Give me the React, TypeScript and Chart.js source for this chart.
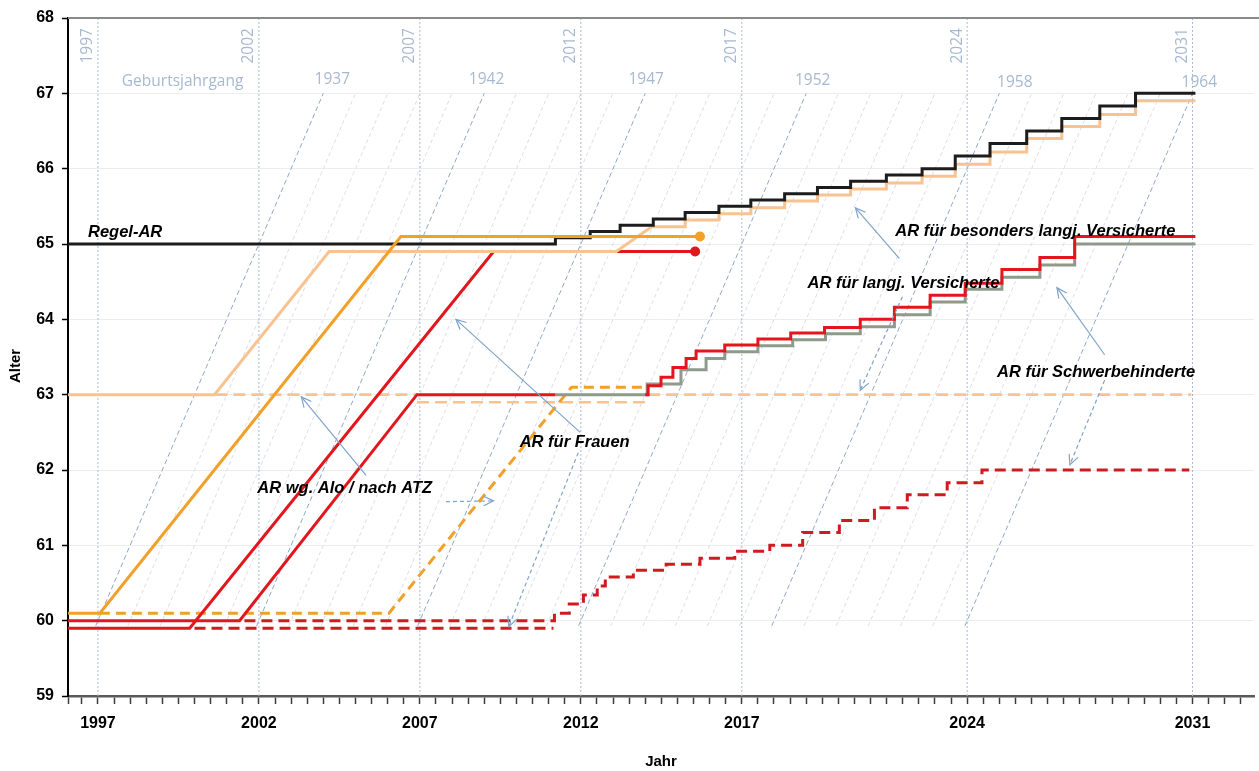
import React, { useEffect, useRef } from 'react';
import { Chart, registerables } from 'chart.js';

Chart.register(...registerables);

// ---------- axes ----------
const X_MIN = 1996.07;
const X_MAX = 2032.91;
const Y_MIN = 59;
const Y_MAX = 68;
const yearTickLabels = [1997, 2002, 2007, 2012, 2017, 2024, 2031];
const yearLines = [1997, 2002, 2007, 2012, 2017, 2024, 2031];

// ---------- birth cohorts (Geburtsjahrgang) ----------
const cohorts = [1937, 1938, 1939, 1940, 1941, 1942, 1943, 1944, 1945, 1946, 1947, 1948, 1949, 1950,
  1951, 1952, 1953, 1954, 1955, 1956, 1957, 1958, 1959, 1960, 1961, 1962, 1963, 1964];
const labeledCohorts = [1937, 1942, 1947, 1952, 1958, 1964];
const cohortAgeFrom = 59.93;
const cohortAgeTo = 67;
const cohortLabelX = [2004.28, 2009.07, 2014.03, 2019.2, 2025.48, 2031.21];
const cohortLabelAge = [67.18, 67.18, 67.18, 67.17, 67.14, 67.14];

// ---------- Regel-AR (black) ----------
const regelStartX = [1996.07];
const regelStartY = [65];
const regelStepX = [2011.21, 2012.29, 2013.22, 2014.25, 2015.24, 2016.29, 2017.28, 2018.33, 2019.35, 2020.38,
  2021.49, 2022.6, 2023.63, 2024.71, 2025.85, 2026.94, 2028.12, 2029.23];
const regelStepY = [65.083, 65.167, 65.25, 65.333, 65.417, 65.5, 65.583, 65.667, 65.75, 65.833,
  65.917, 66.0, 66.167, 66.333, 66.5, 66.667, 66.833, 67.0];
const regelEndX = 2031.09;

// ---------- AR für langj. Versicherte (peach) ----------
const langjStartX = [1996.07, 2000.62, 2004.18, 2013.1, 2014.2];
const langjStartY = [63, 63, 64.9, 64.9, 65.23];
const langjStepX = [2015.24, 2016.29, 2017.28, 2018.33, 2019.35, 2020.38, 2021.49, 2022.6, 2023.63,
  2024.71, 2025.85, 2026.94, 2028.12, 2029.23];
const langjStepY = [65.32, 65.4, 65.48, 65.57, 65.65, 65.73, 65.81, 65.9, 66.06, 66.22, 66.4, 66.56, 66.72, 66.9];
const langjEndX = 2031.09;
const langjDashFrom = [2000.65, 2006.91, 2014.09];
const langjDashTo = [2006.91, 2014.09, 2030.96];
const langjDashAge = [63, 62.9, 63];

// ---------- AR für Frauen (orange) ----------
const frauenX = [1996.07, 1997.06, 2006.41, 2015.7];
const frauenY = [60.1, 60.1, 65.1, 65.1];
const frauenDashX = [1997.06, 2006.04, 2011.71, 2014.09];
const frauenDashY = [60.1, 60.1, 63.1, 63.1];

// ---------- AR wg. Alo / nach ATZ (red) ----------
const aloAX = [1996.07, 2001.4, 2006.91, 2011.21];
const aloAY = [60.0, 60.0, 63.0, 63.0];
const aloBX = [1996.07, 1999.85, 2009.29, 2015.55];
const aloBY = [59.9, 59.9, 64.9, 64.9];
const aloDashX = [2000.0, 2011.15];
const aloDashY = [59.9, 59.9];

// ---------- AR für Schwerbehinderte (gray solid, red dashed) ----------
const schwerStartX = [2011.21];
const schwerStartY = [63.0];
const schwerStepX = [2014.06, 2015.11, 2015.89, 2016.47, 2017.5, 2018.58, 2019.6, 2020.68, 2021.74, 2022.85,
  2023.94, 2025.08, 2026.26, 2027.34];
const schwerStepY = [63.14, 63.33, 63.48, 63.57, 63.65, 63.73, 63.81, 63.9, 64.06, 64.23, 64.4, 64.56, 64.72, 65.0];
const schwerEndX = 2031.09;
const schwerDashStartX = [2001.55];
const schwerDashStartY = [60.0];
const schwerDashStepX = [2011.18, 2011.64, 2012.08, 2012.51, 2012.76, 2013.63, 2014.65, 2015.7, 2016.78, 2017.87,
  2018.89, 2020.03, 2021.12, 2022.14, 2023.38, 2024.46];
const schwerDashStepY = [60.1, 60.22, 60.34, 60.46, 60.58, 60.67, 60.75, 60.83, 60.92, 61.0,
  61.17, 61.33, 61.5, 61.67, 61.83, 62.0];
const schwerDashEndX = 2030.9;

// ---------- AR für besonders langj. Versicherte (red stairs) ----------
const besStartX = [2014.0];
const besStartY = [63.0];
const besStepX = [2014.09, 2014.49, 2014.86, 2015.27, 2015.58, 2016.47, 2017.5, 2018.52, 2019.57, 2020.68,
  2021.74, 2022.85, 2023.94, 2025.08, 2026.26, 2027.34];
const besStepY = [63.12, 63.23, 63.36, 63.48, 63.58, 63.66, 63.74, 63.82, 63.89, 64.0,
  64.16, 64.32, 64.48, 64.66, 64.82, 65.1];
const besEndX = 2031.09;

// ---------- annotations ----------
const noteText = ['Regel-AR', 'AR für besonders langj. Versicherte', 'AR für langj. Versicherte',
  'AR für Schwerbehinderte', 'AR für Frauen', 'AR wg. Alo / nach ATZ'];
const noteX = [1996.69, 2021.77, 2019.04, 2024.93, 2010.1, 2001.95];
const noteAge = [65.15, 65.16, 64.48, 63.3, 62.36, 61.76];

const arrowFromX = [2011.98, 2011.92, 2005.33, 2007.81, 2021.89, 2021.99, 2028.27, 2028.27];
const arrowFromAge = [62.5, 62.23, 61.93, 61.58, 64.81, 64.3, 63.53, 63.19];
const arrowToX = [2008.12, 2009.76, 2003.32, 2009.29, 2020.53, 2020.68, 2026.79, 2027.19];
const arrowToAge = [64.0, 59.92, 62.97, 61.59, 65.48, 63.06, 64.42, 62.07];
const arrowDashed = [false, true, false, true, false, true, false, true];

// ---------- colours ----------
const C_BLACK = '#1c1c1c';
const C_PEACH = '#F8C391';
const C_ORANGE = '#F2A02A';
const C_RED = '#E3161D';
const C_RED_DASH = '#CF1A20';
const C_GRAY = '#8E9A8C';
const C_BLUE_TEXT = '#A6B9D1';
const C_ARROW = '#7FA3C9';

type P = { x: number; y: number | null };

function poly(xs: number[], ys: number[]): P[] {
  return xs.map((x, i) => ({ x, y: ys[i] }));
}

function stairs(sx: number[], sy: number[], stepX: number[], stepY: number[], endX: number): P[] {
  const pts = poly(sx, sy);
  let prev = sy[sy.length - 1];
  stepX.forEach((x, i) => {
    pts.push({ x, y: prev });
    pts.push({ x, y: stepY[i] });
    prev = stepY[i];
  });
  pts.push({ x: endX, y: prev });
  return pts;
}

function segments(from: number[], to: number[], level: number[]): P[] {
  const pts: P[] = [];
  from.forEach((f, i) => {
    if (i > 0) pts.push({ x: f, y: null });
    pts.push({ x: f, y: level[i] });
    pts.push({ x: to[i], y: level[i] });
  });
  return pts;
}

function line(data: P[], color: string, order: number, extra: any = {}) {
  return {
    data,
    borderColor: color,
    backgroundColor: color,
    borderWidth: 3,
    pointRadius: 0,
    pointHoverRadius: 0,
    tension: 0,
    fill: false,
    borderJoinStyle: 'miter',
    borderCapStyle: 'butt',
    spanGaps: false,
    order,
    ...extra,
  };
}

function endDot(color: string, n: number) {
  return {
    pointRadius: (ctx: any) => (ctx.dataIndex === n - 1 ? 5 : 0),
    pointBackgroundColor: color,
    pointBorderColor: color,
    pointBorderWidth: 0,
  };
}

function buildDatasets() {
  const ds: any[] = [];
  cohorts.forEach((c) => {
    const lab = labeledCohorts.includes(c);
    ds.push(line([
      { x: c + cohortAgeFrom, y: cohortAgeFrom },
      { x: c + cohortAgeTo, y: cohortAgeTo },
    ], lab ? '#90A8C9' : '#D9DFE7', 50, { borderWidth: 1, borderDash: lab ? [5, 3] : [4, 3] }));
  });
  yearLines.forEach((yr) => {
    ds.push(line([{ x: yr, y: Y_MIN }, { x: yr, y: Y_MAX }], '#A9BCD6', 49, { borderWidth: 1, borderDash: [2, 2] }));
  });
  ds.push(line(segments(langjDashFrom, langjDashTo, langjDashAge), C_PEACH, 20, { borderWidth: 2.6, borderDash: [12, 6] }));
  ds.push(line(poly(frauenDashX, frauenDashY), C_ORANGE, 19, { borderWidth: 3, borderDash: [10, 6] }));
  ds.push(line(poly(aloDashX, aloDashY), C_RED_DASH, 18, { borderWidth: 3, borderDash: [11, 6] }));
  ds.push(line(stairs(schwerDashStartX, schwerDashStartY, schwerDashStepX, schwerDashStepY, schwerDashEndX), C_RED_DASH, 17, { borderWidth: 3, borderDash: [11, 6] }));
  const aloB = poly(aloBX, aloBY);
  ds.push(line(aloB, C_RED, 16, endDot(C_RED, aloB.length)));
  ds.push(line(stairs(langjStartX, langjStartY, langjStepX, langjStepY, langjEndX), C_PEACH, 15));
  ds.push(line(stairs(schwerStartX, schwerStartY, schwerStepX, schwerStepY, schwerEndX), C_GRAY, 14));
  ds.push(line(stairs(besStartX, besStartY, besStepX, besStepY, besEndX), C_RED, 13));
  ds.push(line(poly(aloAX, aloAY), C_RED, 13));
  ds.push(line(stairs(regelStartX, regelStartY, regelStepX, regelStepY, regelEndX), C_BLACK, 12));
  const fr = poly(frauenX, frauenY);
  ds.push(line(fr, C_ORANGE, 11, endDot(C_ORANGE, fr.length)));
  return ds;
}

function drawArrow(ctx: CanvasRenderingContext2D, x1: number, y1: number, x2: number, y2: number, dashed: boolean) {
  ctx.save();
  ctx.strokeStyle = C_ARROW;
  ctx.lineWidth = 1.2;
  ctx.setLineDash(dashed ? [4, 3] : []);
  ctx.beginPath();
  ctx.moveTo(x1, y1);
  ctx.lineTo(x2, y2);
  ctx.stroke();
  ctx.setLineDash([]);
  const a = Math.atan2(y2 - y1, x2 - x1);
  const L = 11;
  const w = 0.45;
  ctx.beginPath();
  ctx.moveTo(x2 - L * Math.cos(a - w), y2 - L * Math.sin(a - w));
  ctx.lineTo(x2, y2);
  ctx.lineTo(x2 - L * Math.cos(a + w), y2 - L * Math.sin(a + w));
  ctx.stroke();
  ctx.restore();
}

const decor = {
  id: 'decor',
  afterDatasetsDraw(chart: any) {
    const { ctx, scales } = chart;
    const X = (v: number) => scales.x.getPixelForValue(v);
    const Y = (v: number) => scales.y.getPixelForValue(v);
    ctx.save();
    ctx.fillStyle = C_BLUE_TEXT;
    ctx.font = '15.5px "Open Sans", sans-serif';
    ctx.textAlign = 'center';
    ctx.textBaseline = 'middle';
    yearLines.forEach((yr) => {
      ctx.save();
      ctx.translate(X(yr) - 10, Y(67.63));
      ctx.rotate(-Math.PI / 2);
      ctx.fillText(String(yr), 0, 0);
      ctx.restore();
    });
    labeledCohorts.forEach((c, i) => {
      ctx.fillText(String(c), X(cohortLabelX[i]), Y(cohortLabelAge[i]));
    });
    ctx.fillText('Geburtsjahrgang', X(1999.63), Y(67.15));

    ctx.fillStyle = '#000';
    ctx.font = 'italic bold 16.5px "Liberation Sans", Arial, sans-serif';
    ctx.textAlign = 'left';
    noteText.forEach((t, i) => ctx.fillText(t, X(noteX[i]), Y(noteAge[i])));

    arrowFromX.forEach((fx, i) => {
      drawArrow(ctx, X(fx), Y(arrowFromAge[i]), X(arrowToX[i]), Y(arrowToAge[i]), arrowDashed[i]);
    });
    ctx.restore();
  },
  afterDraw(chart: any) {
    const { ctx, chartArea } = chart;
    ctx.save();
    ctx.strokeStyle = '#8A8A8A';
    ctx.lineWidth = 2;
    ctx.beginPath();
    ctx.moveTo(chartArea.left, chartArea.top);
    ctx.lineTo(chart.width, chartArea.top);
    ctx.stroke();

    ctx.fillStyle = '#000';
    ctx.font = 'bold 15px "Liberation Sans", Arial, sans-serif';
    ctx.textAlign = 'center';
    ctx.textBaseline = 'middle';
    ctx.fillText('Jahr', (chartArea.left + chartArea.right) / 2, 762);
    ctx.save();
    ctx.translate(16, 366);
    ctx.rotate(-Math.PI / 2);
    ctx.fillText('Alter', 0, 0);
    ctx.restore();
    ctx.restore();
  },
};

export default function App() {
  const ref = useRef<HTMLCanvasElement>(null);
  useEffect(() => {
    if (!ref.current) return;
    const tickVals: number[] = [X_MIN];
    for (let v = 1996.5; v <= 2032.5; v += 0.5) tickVals.push(v);
    const chart = new Chart(ref.current, {
      type: 'line',
      data: { datasets: buildDatasets() },
      plugins: [decor],
      options: {
        responsive: false,
        animation: false,
        events: [],
        layout: { padding: { top: 18, right: 1, left: 0, bottom: 0 } },
        plugins: { legend: { display: false }, tooltip: { enabled: false }, title: { display: false } },
        scales: {
          x: {
            type: 'linear',
            min: X_MIN,
            max: X_MAX,
            afterBuildTicks: (s: any) => { s.ticks = tickVals.map((v) => ({ value: v })); },
            afterFit: (s: any) => { s.height = 75; },
            ticks: {
              autoSkip: false,
              maxRotation: 0,
              minRotation: 0,
              padding: 10,
              color: '#000',
              font: { family: '"Liberation Sans", Arial, sans-serif', size: 16, weight: 'bold' },
              callback: (v: any) => (yearTickLabels.includes(v) ? String(v) : ''),
            },
            grid: { drawOnChartArea: false, drawTicks: true, tickLength: 8, tickColor: '#3c3c3c', tickWidth: 1.5 },
            border: { color: '#595959', width: 2.5 },
          },
          y: {
            type: 'linear',
            min: Y_MIN,
            max: Y_MAX,
            afterFit: (s: any) => { s.width = 68; },
            ticks: {
              stepSize: 1,
              padding: 8,
              color: '#000',
              font: { family: '"Liberation Sans", Arial, sans-serif', size: 16, weight: 'bold' },
            },
            grid: { color: '#EDEDED', lineWidth: 1, tickColor: '#000', tickLength: 6, tickWidth: 1.5 },
            border: { color: '#000', width: 2 },
          },
        },
      } as any,
    });
    return () => chart.destroy();
  }, []);
  return (
    <div style={{ position: 'fixed', left: 0, top: 0, width: 1259, height: 771, background: '#fff' }}>
      <canvas ref={ref} width={1259} height={771} style={{ width: 1259, height: 771, display: 'block' }} />
    </div>
  );
}
